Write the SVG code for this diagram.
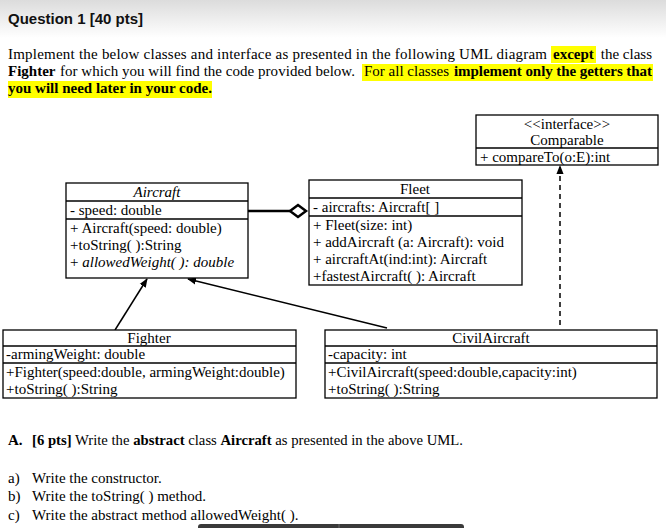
<svg xmlns="http://www.w3.org/2000/svg" width="666" height="528" viewBox="0 0 666 528">
<defs>
<linearGradient id="topg" x1="0" y1="0" x2="0" y2="1">
<stop offset="0" stop-color="#dcdcdc"/>
<stop offset="1" stop-color="#ffffff"/>
</linearGradient>
<marker id="arr" viewBox="0 0 10 10" refX="9" refY="5" markerWidth="9" markerHeight="9" markerUnits="userSpaceOnUse" orient="auto">
<path d="M0,1 L10,5 L0,9 Z" fill="#000"/>
</marker>
<style>
.h{font-family:"Liberation Sans",Arial,sans-serif;font-weight:bold;font-size:15px;fill:#111}
.t{font-family:"Liberation Serif","Times New Roman",serif;font-size:15px;fill:#000}
.b{font-weight:bold}
.i{font-style:italic}
.box{fill:#fff;stroke:#000;stroke-width:1.3}
.div{stroke:#000;stroke-width:1.3}
.hl{fill:#ffff00}
.con{stroke:#000;stroke-width:1.5;fill:none}
</style>
</defs>
<rect x="0" y="0" width="666" height="528" fill="#fff"/>
<rect x="0" y="0" width="666" height="38" fill="url(#topg)"/>
<text class="h" x="8" y="24">Question 1 [40 pts]</text>

<rect class="hl" x="551" y="46" width="45" height="17"/>
<rect class="hl" x="362" y="64" width="291" height="17"/>
<rect class="hl" x="8" y="81" width="204" height="17"/>

<text class="t" x="8" y="59" textLength="539" lengthAdjust="spacing">Implement the below classes and interface as presented in the following UML diagram</text>
<text class="t b" x="553" y="59">except</text>
<text class="t" x="652" y="59" text-anchor="end">the class</text>

<text class="t b" x="8" y="76">Fighter</text>
<text class="t" x="60" y="76" textLength="295" lengthAdjust="spacing">for which you will find the code provided below.</text>
<text class="t" x="364" y="76" textLength="85" lengthAdjust="spacing">For all classes</text>
<text class="t b" x="454" y="76" textLength="198" lengthAdjust="spacing">implement only the getters that</text>
<text class="t b" x="8" y="93">you will need later in your code.</text>

<g id="connectors">
<line class="con" x1="560" y1="325" x2="560" y2="166" stroke-dasharray="5,4" marker-end="url(#arr)"/>
<line class="con" x1="115" y1="330" x2="147" y2="279" marker-end="url(#arr)"/>
<line class="con" x1="387" y1="328" x2="188" y2="279" marker-end="url(#arr)"/>
<line x1="248" y1="211" x2="290" y2="211" stroke="#000" stroke-width="2.5"/>
<path d="M290,211 L298,205 L306,211 L298,217 Z" fill="#fff" stroke="#000" stroke-width="2.5"/>
</g>

<g id="comparable">
<rect class="box" x="476" y="115" width="182" height="50"/>
<line class="div" x1="476" y1="148" x2="658" y2="148"/>
<text class="t" x="567" y="129" text-anchor="middle">&lt;&lt;interface&gt;&gt;</text>
<text class="t" x="567" y="145" text-anchor="middle">Comparable</text>
<text class="t" x="480" y="162">+ compareTo(o:E):int</text>
</g>

<g id="aircraft">
<rect class="box" x="66" y="183" width="182" height="95"/>
<line class="div" x1="66" y1="201" x2="248" y2="201"/>
<line class="div" x1="66" y1="219" x2="248" y2="219"/>
<text class="t i" x="157" y="197" text-anchor="middle">Aircraft</text>
<text class="t" x="70" y="215">- speed: double</text>
<text class="t" x="70" y="233">+ Aircraft(speed: double)</text>
<text class="t" x="70" y="250">+toString( ):String</text>
<text class="t" x="70" y="267"><tspan>+ </tspan><tspan class="i">allowedWeight( ): double</tspan></text>
</g>

<g id="fleet">
<rect class="box" x="309" y="180" width="213" height="105"/>
<line class="div" x1="309" y1="198" x2="522" y2="198"/>
<line class="div" x1="309" y1="216" x2="522" y2="216"/>
<text class="t" x="415" y="194" text-anchor="middle">Fleet</text>
<text class="t" x="313" y="212">- aircrafts: Aircraft[ ]</text>
<text class="t" x="313" y="230">+ Fleet(size: int)</text>
<text class="t" x="313" y="247">+ addAircraft  (a: Aircraft): void</text>
<text class="t" x="313" y="264">+ aircraftAt(ind:int): Aircraft</text>
<text class="t" x="313" y="281">+fastestAircraft( ):  Aircraft</text>
</g>

<g id="fighter">
<rect class="box" x="3" y="330" width="293" height="68"/>
<line class="div" x1="3" y1="346" x2="296" y2="346"/>
<line class="div" x1="3" y1="363" x2="296" y2="363"/>
<text class="t" x="149" y="343" text-anchor="middle">Fighter</text>
<text class="t" x="6" y="359">-armingWeight: double</text>
<text class="t" x="6" y="377">+Fighter(speed:double, armingWeight:double)</text>
<text class="t" x="6" y="394">+toString( ):String</text>
</g>

<g id="civilaircraft">
<rect class="box" x="325" y="330" width="332" height="68"/>
<line class="div" x1="325" y1="346" x2="657" y2="346"/>
<line class="div" x1="325" y1="363" x2="657" y2="363"/>
<text class="t" x="491" y="343" text-anchor="middle">CivilAircraft</text>
<text class="t" x="328" y="359">-capacity: int</text>
<text class="t" x="328" y="377">+CivilAircraft(speed:double,capacity:int)</text>
<text class="t" x="328" y="394">+toString( ):String</text>
</g>

<text class="t" x="8" y="445"><tspan class="b">A.</tspan></text>
<text class="t" x="32" y="445" textLength="431" lengthAdjust="spacingAndGlyphs"><tspan class="b">[6 pts]</tspan> Write the <tspan class="b">abstract</tspan> class <tspan class="b">Aircraft</tspan> as presented in the above UML.</text>
<text class="t" x="8" y="483">a)</text>
<text class="t" x="32" y="483">Write the constructor.</text>
<text class="t" x="8" y="501">b)</text>
<text class="t" x="32" y="501">Write the toString( ) method.</text>
<text class="t" x="8" y="520">c)</text>
<text class="t" x="32" y="520">Write the abstract method allowedWeight( ).</text>

<path d="M198,528 L198,527 Q198,524 201,524 L461,524 Q464,524 464,527 L464,528 Z" fill="#3a3a3a"/>
<line x1="339" y1="524" x2="339" y2="528" stroke="#666" stroke-width="1"/>
</svg>
